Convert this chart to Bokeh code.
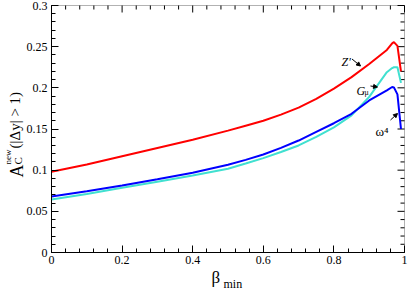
import math
from bokeh.plotting import figure
from bokeh.models import (Range1d, LinearAxis, FixedTicker, Label, Arrow,
                          NormalHead, CustomJSTickFormatter, BoxAnnotation)
from bokeh.embed import file_html
from bokeh.resources import INLINE

# ---- data ----
beta = [0.0, 0.1, 0.2, 0.3, 0.4, 0.5, 0.55, 0.6, 0.65, 0.7, 0.75, 0.8, 0.85, 0.9, 0.95, 0.965, 0.97, 0.98, 0.99]
zprime = [0.098, 0.107, 0.117, 0.127, 0.137, 0.148, 0.154, 0.160, 0.1675, 0.176, 0.1865, 0.199, 0.213, 0.229, 0.246, 0.254, 0.2555, 0.251, 0.220]
gmu = [0.0644, 0.071, 0.0786, 0.086, 0.0936, 0.1017, 0.108, 0.1146, 0.122, 0.130, 0.1405, 0.152, 0.1665, 0.189, 0.219, 0.224, 0.225, 0.225, 0.206]
omega4 = [0.068, 0.0745, 0.0814, 0.089, 0.0968, 0.1065, 0.1125, 0.119, 0.127, 0.136, 0.1465, 0.157, 0.1685, 0.1847, 0.197, 0.201, 0.2005, 0.192, 0.150]

x_ticks = [0.0, 0.2, 0.4, 0.6, 0.8, 1.0]
x_minor = [i * 0.04 for i in range(26)]
y_ticks = [0.0, 0.05, 0.1, 0.15, 0.2, 0.25, 0.3]
y_minor = [i * 0.01 for i in range(31)]

FONT = "Liberation Serif"
W, H = 409, 289

# where the data box sits on the canvas, in pixels
FL, FR, FB, FT = 51, 404, 252, 5
XPX = 1.0 / (FR - FL)          # data units per pixel, x
YPX = 0.3 / (FB - FT)          # data units per pixel, y
def dx(px):
    return (px - FL) * XPX
def dy(py):
    return (FB - py) * YPX

# the frame covers the whole canvas so that the text around the box is not clipped
p = figure(width=W, height=H,
           x_range=Range1d(dx(0), dx(W)), y_range=Range1d(dy(H), dy(0)),
           output_backend="svg", toolbar_location=None,
           x_axis_location=None, y_axis_location=None,
           min_border_left=0, min_border_right=0,
           min_border_top=0, min_border_bottom=0)
p.grid.visible = False
p.outline_line_color = None
p.background_fill_color = "white"
p.border_fill_color = "white"

fmt = CustomJSTickFormatter(code="return String(parseFloat(tick.toFixed(3)));")

def make_axis(ticks, minor, loc, bounds, standoff=3):
    ax = LinearAxis(ticker=FixedTicker(ticks=ticks, minor_ticks=minor), formatter=fmt,
                    fixed_location=loc, bounds=bounds)
    ax.major_tick_in = 7
    ax.major_tick_out = 0
    ax.minor_tick_in = 4
    ax.minor_tick_out = 0
    ax.axis_line_color = "black"
    ax.major_tick_line_color = "black"
    ax.minor_tick_line_color = "black"
    ax.major_label_text_font = FONT
    ax.major_label_text_color = "black"
    ax.major_label_text_font_size = "12px"
    ax.major_label_standoff = standoff
    return ax

p.add_layout(make_axis(y_ticks, y_minor, 0.0, (0.0, 0.3), 4), "left")
p.add_layout(make_axis(x_ticks, x_minor, 0.0, (0.0, 1.0), 3), "below")

# box outline
p.add_layout(BoxAnnotation(left=0.0, right=1.0, bottom=0.0, top=0.3,
                           fill_alpha=0.0, line_color="black", line_width=1))

# mirrored inward ticks on the right and top edges
def minor_only(minor, major):
    return [m for m in minor if all(abs(m - t) > 1e-9 for t in major)]

ym = minor_only(y_minor, y_ticks)
xm = minor_only(x_minor, x_ticks)
p.segment(x0=[1.0] * len(y_ticks), y0=y_ticks, x1=[1.0 - 7 * XPX] * len(y_ticks), y1=y_ticks,
          line_color="black", line_width=1)
p.segment(x0=[1.0] * len(ym), y0=ym, x1=[1.0 - 4 * XPX] * len(ym), y1=ym,
          line_color="black", line_width=1)
p.segment(x0=x_ticks, y0=[0.3] * len(x_ticks), x1=x_ticks, y1=[0.3 - 7 * YPX] * len(x_ticks),
          line_color="black", line_width=1)
p.segment(x0=xm, y0=[0.3] * len(xm), x1=xm, y1=[0.3 - 4 * YPX] * len(xm),
          line_color="black", line_width=1)

p.line(beta, gmu, line_color="#40e0d0", line_width=2)
p.line(beta, omega4, line_color="#0000ff", line_width=2)
p.line(beta, zprime, line_color="#ff0000", line_width=2)

def lab(px, py, text, size, angle=0.0, style="normal"):
    p.add_layout(Label(x=dx(px), y=dy(py), text=text, angle=angle,
                       text_font=FONT, text_font_size=size, text_font_style=style,
                       text_color="black", text_align="left",
                       text_baseline="alphabetic"))

# y axis label (rotated)
R = math.pi / 2
lab(16, 177, "A", "18px", R)
lab(17, 164, "C", "11px", R)
lab(7, 164, "new", "9px", R)
lab(14.5, 148, "(|Δy| > 1)", "15px", R)

# x axis label
lab(211, 277, "β", "17px")
lab(223, 283, "min", "12px")

# curve annotations
lab(341, 61, "Z′", "12px", 0.0, "italic")
lab(356, 90, "G", "12px", 0.0, "italic")
lab(364, 92, "μ", "8px")
lab(375, 131, "ω⁴", "13px")

def arrow(x0, y0, x1, y1):
    p.add_layout(Arrow(end=NormalHead(size=4, fill_color="black", line_color="black"),
                       x_start=dx(x0), y_start=dy(y0), x_end=dx(x1), y_end=dy(y1),
                       line_color="black", line_width=1))

arrow(351.5, 58.5, 360, 65.5)
arrow(370, 85.5, 377, 86.5)
arrow(390, 119.5, 397, 113)

open("out.html", "w").write(file_html(p, INLINE))
